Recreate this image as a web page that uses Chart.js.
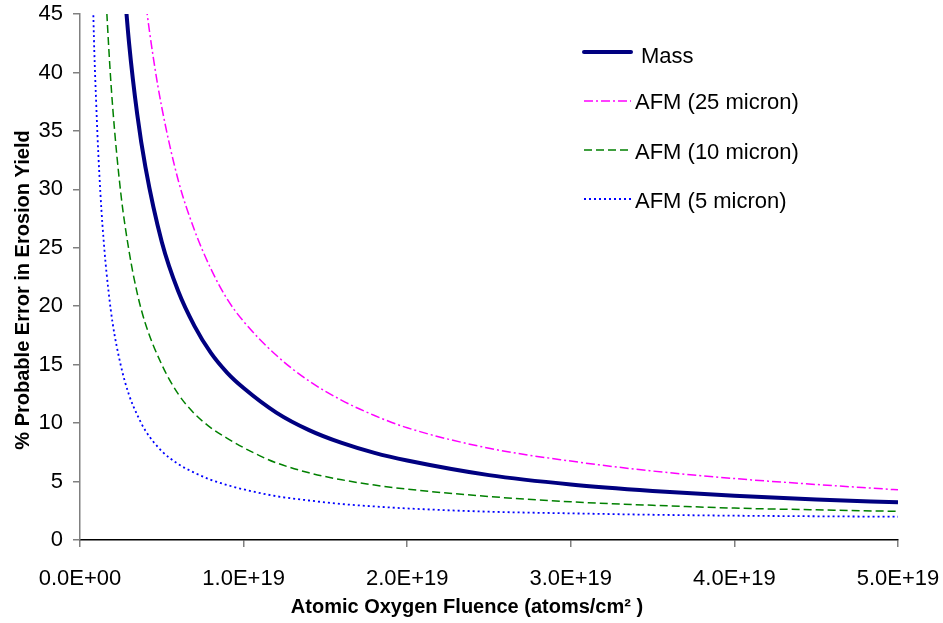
<!DOCTYPE html>
<html>
<head>
<meta charset="utf-8">
<script src="https://cdn.jsdelivr.net/npm/chart.js@4.4.1/dist/chart.umd.min.js"></script>
<style>
  html, body { margin: 0; padding: 0; background: #ffffff; }
  #wrap { width: 943px; height: 623px; position: relative; }
</style>
</head>
<body>
<div id="wrap"><canvas id="erosion-chart"></canvas></div>
<script>
// Fluence values are in units of 1E19 atoms/cm2
const FLUENCE_UNIT = 1e19;

// Mass loss based error
const massX = [0.25, 0.3, 0.35, 0.4, 0.5, 0.6, 0.7, 0.8, 0.9, 1.0, 1.2, 1.4, 1.6, 1.8, 2.0, 2.5, 3.0, 3.5, 4.0, 4.5, 5.0];
const massY = [51.0, 42.5, 36.4, 31.9, 25.5, 21.3, 18.3, 16.0, 14.3, 13.0, 10.9, 9.4, 8.3, 7.45, 6.8, 5.55, 4.75, 4.2, 3.78, 3.47, 3.22];

// AFM 25 micron
const afm25X = [0.35, 0.4, 0.45, 0.5, 0.6, 0.7, 0.8, 0.9, 1.0, 1.2, 1.4, 1.6, 1.8, 2.0, 2.5, 3.0, 3.5, 4.0, 4.5, 5.0];
const afm25Y = [52.9, 46.2, 41.1, 37.0, 30.8, 26.5, 23.2, 20.6, 18.7, 15.8, 13.6, 11.95, 10.65, 9.6, 7.85, 6.75, 5.9, 5.26, 4.75, 4.29];

// AFM 10 micron
const afm10X = [0.12, 0.15, 0.175, 0.2, 0.25, 0.3, 0.35, 0.4, 0.5, 0.6, 0.7, 0.8, 0.9, 1.0, 1.1, 1.2, 1.4, 1.6, 1.8, 2.0, 2.5, 3.0, 3.5, 4.0, 4.5, 5.0];
const afm10Y = [61.5, 49.3, 42.3, 37.0, 29.6, 24.7, 21.1, 18.5, 15.0, 12.5, 10.8, 9.6, 8.7, 7.9, 7.2, 6.6, 5.75, 5.15, 4.7, 4.35, 3.72, 3.27, 2.97, 2.73, 2.58, 2.45];

// AFM 5 micron
const afm5X = [0.05, 0.08, 0.1, 0.125, 0.15, 0.175, 0.2, 0.25, 0.3, 0.35, 0.4, 0.5, 0.6, 0.7, 0.8, 0.9, 1.0, 1.2, 1.4, 1.6, 1.8, 2.0, 2.5, 3.0, 3.5, 4.0, 4.5, 5.0];
const afm5Y = [74, 46, 37, 29.6, 24.7, 21.2, 18.5, 14.9, 12.4, 10.7, 9.35, 7.6, 6.5, 5.75, 5.15, 4.7, 4.33, 3.75, 3.38, 3.08, 2.87, 2.7, 2.42, 2.28, 2.16, 2.08, 2.03, 1.99];

const seriesLabels = ['Mass', 'AFM (25 micron)', 'AFM (10 micron)', 'AFM (5 micron)'];

// Axis settings
const xTicks = [0, 1, 2, 3, 4, 5];
const yTickMax = 45;
const yTickStep = 5;

const xTitle = 'Atomic Oxygen Fluence (atoms/cm\u00B2 )';
const yTitle = '% Probable Error in Erosion Yield';

const FONT = '"Liberation Sans", Arial, Helvetica, sans-serif';

function toPoints(xs, ys) {
    return xs.map((x, i) => ({ x: x * FLUENCE_UNIT, y: ys[i] }));
}

function formatFluence(value) {
    if (value === 0) return '0.0E+00';
    const exp = Math.floor(Math.log10(value) + 1e-9);
    const mant = value / Math.pow(10, exp);
    return mant.toFixed(1) + 'E+' + String(exp).padStart(2, '0');
}

// Legend + axis titles drawn at fixed spots like the original
const overlayPlugin = {
    id: 'overlay',
    afterDraw(chart) {
        const ctx = chart.ctx;
        ctx.save();

        // legend
        const rowY = [52, 101, 150, 199];
        const textX = [641, 635, 635, 635];
        const textOff = [5, 2, 3, 3];
        chart.data.datasets.forEach((ds, i) => {
            ctx.beginPath();
            ctx.strokeStyle = ds.borderColor;
            ctx.lineWidth = ds.borderWidth;
            ctx.lineCap = i === 0 ? 'round' : 'butt';
            ctx.setLineDash(ds.borderDash || []);
            ctx.moveTo(584, rowY[i]);
            ctx.lineTo(631, rowY[i]);
            ctx.stroke();
            ctx.setLineDash([]);
            ctx.fillStyle = '#000000';
            ctx.font = '22px ' + FONT;
            ctx.textBaseline = 'middle';
            ctx.textAlign = 'left';
            ctx.fillText(ds.label, textX[i], rowY[i] + textOff[i]);
        });

        // axis titles
        ctx.fillStyle = '#000000';
        ctx.font = 'bold 20px ' + FONT;
        ctx.textAlign = 'center';
        ctx.textBaseline = 'middle';
        ctx.fillText(xTitle, 467, 607);

        ctx.translate(23, 290);
        ctx.rotate(-Math.PI / 2);
        ctx.fillText(yTitle, 0, 0);
        ctx.restore();
    }
};

function createErosionChart(ctx) {
    return new Chart(ctx, {
        type: 'line',
        data: {
            datasets: [{
                label: seriesLabels[0],
                data: toPoints(massX, massY),
                borderColor: '#000080',
                borderWidth: 4,
                pointRadius: 0,
                cubicInterpolationMode: 'monotone'
            }, {
                label: seriesLabels[1],
                data: toPoints(afm25X, afm25Y),
                borderColor: '#ff00ff',
                borderWidth: 1.5,
                borderDash: [9, 3, 2, 3],
                pointRadius: 0,
                cubicInterpolationMode: 'monotone'
            }, {
                label: seriesLabels[2],
                data: toPoints(afm10X, afm10Y),
                borderColor: '#008000',
                borderWidth: 1.5,
                borderDash: [8, 4],
                pointRadius: 0,
                cubicInterpolationMode: 'monotone'
            }, {
                label: seriesLabels[3],
                data: toPoints(afm5X, afm5Y),
                borderColor: '#0000ff',
                borderWidth: 1.8,
                borderDash: [2, 3],
                pointRadius: 0,
                cubicInterpolationMode: 'monotone'
            }]
        },
        options: {
            responsive: true,
            maintainAspectRatio: false,
            animation: false,
            layout: {
                padding: { top: 14, right: 45, left: 0, bottom: 0 }
            },
            plugins: {
                legend: { display: false },
                tooltip: { enabled: false }
            },
            scales: {
                x: {
                    type: 'linear',
                    min: 0,
                    max: xTicks[xTicks.length - 1] * FLUENCE_UNIT,
                    afterFit: scale => {
                        scale.height = 83;
                        scale.paddingLeft = 0;
                        scale.paddingRight = 0;
                    },
                    afterBuildTicks: scale => {
                        scale.ticks = xTicks.map(v => ({ value: v * FLUENCE_UNIT }));
                    },
                    border: { color: '#000000', width: 1.5 },
                    grid: {
                        drawOnChartArea: false,
                        drawTicks: true,
                        tickLength: 7,
                        color: '#808080',
                        lineWidth: 1.5
                    },
                    ticks: {
                        color: '#000000',
                        padding: 19,
                        maxRotation: 0,
                        font: { family: FONT, size: 22 },
                        callback: value => formatFluence(value)
                    }
                },
                y: {
                    min: 0,
                    max: yTickMax,
                    afterFit: scale => {
                        scale.width = 80;
                        scale.paddingTop = 0;
                        scale.paddingBottom = 0;
                    },
                    border: { color: '#808080', width: 1.5 },
                    grid: {
                        drawOnChartArea: false,
                        drawTicks: true,
                        tickLength: 7,
                        color: '#808080',
                        lineWidth: 1.5
                    },
                    ticks: {
                        stepSize: yTickStep,
                        color: '#000000',
                        padding: 10,
                        font: { family: FONT, size: 22 }
                    }
                }
            }
        },
        plugins: [overlayPlugin]
    });
}

createErosionChart(document.getElementById('erosion-chart'));
</script>
</body>
</html>
